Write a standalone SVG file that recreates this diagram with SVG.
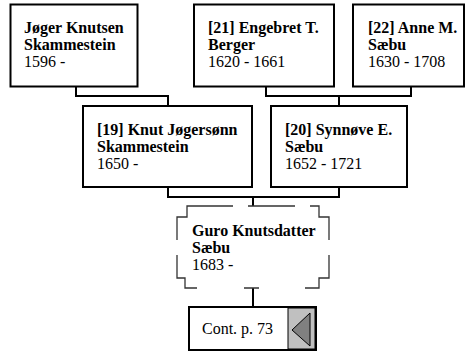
<svg xmlns="http://www.w3.org/2000/svg" width="465" height="356" viewBox="0 0 465 356">
<style>
.box{fill:#fff;stroke:#000;stroke-width:2}
.b{font-family:"Liberation Serif","Times New Roman",serif;font-size:16px;font-weight:bold;fill:#000}
.r{font-family:"Liberation Serif","Times New Roman",serif;font-size:16px;fill:#000}
.con{fill:none;stroke:#000;stroke-width:2}
.dash{fill:none;stroke:#333;stroke-width:1.3}
</style>
<rect width="465" height="356" fill="#fff"/>
<g id="connectors">
<path class="con" d="M76,87 V96 H168 V106"/>
<path class="con" d="M266,87 V96 H411 V87 M339,96 V106"/>
<path class="con" d="M168,187 V197 H339 V187 M253,197 V206"/>
<path class="con" d="M253,288 V307" stroke-width="1.5"/>
</g>
<g id="n1">
<rect class="box" x="10.5" y="4.5" width="127" height="82"/>
<text class="b" x="24" y="33">Jøger Knutsen</text>
<text class="b" x="24" y="50">Skammestein</text>
<text class="r" x="24" y="67">1596 -</text>
</g>
<g id="n21">
<rect class="box" x="194" y="4.5" width="140" height="82"/>
<text class="b" x="208" y="33">[21] Engebret T.</text>
<text class="b" x="208" y="50">Berger</text>
<text class="r" x="208" y="67">1620 - 1661</text>
</g>
<g id="n22">
<rect class="box" x="353" y="4.5" width="111" height="82"/>
<text class="b" x="368" y="33">[22] Anne M.</text>
<text class="b" x="368" y="50">Sæbu</text>
<text class="r" x="368" y="67">1630 - 1708</text>
</g>
<g id="n19">
<rect class="box" x="83" y="106" width="169" height="81"/>
<text class="b" x="97" y="135">[19] Knut Jøgersønn</text>
<text class="b" x="97" y="152">Skammestein</text>
<text class="r" x="97" y="169">1650 -</text>
</g>
<g id="n20">
<rect class="box" x="271" y="106" width="136" height="81"/>
<text class="b" x="285" y="135">[20] Synnøve E.</text>
<text class="b" x="285" y="152">Sæbu</text>
<text class="r" x="285" y="169">1652 - 1721</text>
</g>
<g id="n18">
<path class="dash" d="M177,240 V217 H187 V206 H233 M248,206 H295 M310,206 H319 V217 H329 V240 M329,255 V278 H319 V288 H305 M259,288 H244 M197,288 H185 V278 H177 V255"/>
<text class="b" x="192" y="236">Guro Knutsdatter</text>
<text class="b" x="192" y="253">Sæbu</text>
<text class="r" x="192" y="270">1683 -</text>
</g>
<g id="cont">
<rect class="box" x="189" y="307" width="127" height="43"/>
<rect x="288" y="308" width="27" height="41" fill="#c0c0c0" stroke="#000" stroke-width="1"/>
<polygon points="292,330 310,313 310,346" fill="#808080" stroke="#000" stroke-width="1"/>
<text class="r" x="202" y="334">Cont. p. 73</text>
</g>
</svg>
